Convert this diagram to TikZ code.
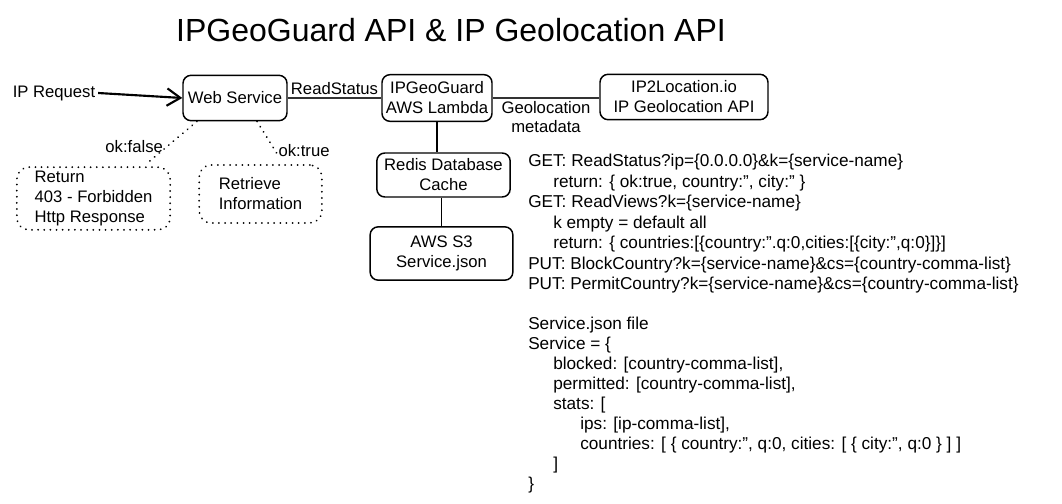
\documentclass[tikz,border=0pt]{standalone}
\usepackage{fontspec}
\setmainfont{Liberation Sans}
\usetikzlibrary{arrows.meta,calc}

\tikzset{
  box/.style={draw, line width=1.1pt, rounded corners=6pt, align=center, inner sep=1pt, font=\fontsize{12.5}{15}\selectfont},
  notebox/.style={draw, line width=1.4pt, dash pattern=on 0.1pt off 4.5pt, line cap=round, rounded corners=9pt, align=left, inner sep=1pt, font=\fontsize{12.5}{15}\selectfont},
  link/.style={line width=1.1pt, draw=black!80},
  okline/.style={line width=1.4pt, dash pattern=on 0.1pt off 4.5pt, line cap=round},
  label/.style={font=\fontsize{12.5}{15}\selectfont, inner sep=2pt},
  code/.style={anchor=north west, align=left, inner sep=0pt, font=\fontsize{12.9}{15.4}\selectfont},
}

\begin{document}
\begin{tikzpicture}[x=0.75pt, y=-0.75pt]
    \useasboundingbox (0,0) rectangle (1062,503);

    % Titolo
    \node[font=\fontsize{24}{28}\selectfont] (titolo) at (451,30) {IPGeoGuard API \& IP Geolocation API};

    % Nodi principali
    \node[label] (req) at (54,93) {IP Request};
    \node[box, minimum width=78pt, minimum height=34pt] (web) at (235,98) {Web Service};
    \node[box, minimum width=82.5pt, minimum height=35pt] (geo) at (437,98) {IPGeoGuard\\AWS Lambda};
    \node[box, minimum width=126pt, minimum height=34pt] (ip2) at (684,97) {IP2Location.io\\IP Geolocation API};
    \node[box, minimum width=100pt, minimum height=33pt] (redis) at (443.5,175) {Redis Database\\Cache};
    \node[box, minimum width=107pt, minimum height=40pt] (s3) at (441.5,253.5) {AWS S3\\Service.json};

    % Risposte
    \node[notebox, minimum width=115pt, minimum height=47pt] (deny) at (93.5,198.5) {Return\\403 - Forbidden\\Http Response};
    \node[notebox, minimum width=92pt, minimum height=43.5pt] (info) at (260.5,194) {Retrieve\\Information};

    % Collegamenti
    \draw[line width=1.6pt, -{Straight Barb[length=10pt, width=13pt, line width=1.6pt]}] (req.east) -- (web.west);
    \draw[link] (web.east) -- node[label, above] {ReadStatus} (geo.west);
    \draw[link] (geo.east) -- node[label, below, align=center, font=\fontsize{12.5}{14.5}\selectfont] {Geolocation\\metadata} (ip2.west |- geo.east);
    \draw[line width=0.9pt] (geo.south) -- (geo.south |- redis.north);
    \draw[line width=0.9pt] (s3.north |- redis.south) -- (s3.north);
    \draw[okline, shorten >=4pt] ($(web.south)+(-38,0)$) -- node[label, left, pos=0.57] {ok:false} ($(deny.north)+(50,0)$);
    \draw[okline, shorten >=6pt] ($(web.south)+(22,0)$) -- node[label, right, pos=0.68] {ok:true} ($(info.north)+(23,0)$);

    % API
    \node[code] (api) at (528,154) {GET: ReadStatus?ip=\{0.0.0.0\}\&k=\{service-name\}\\
        \hspace*{18.75pt}return: \{ ok:true, country:", city:" \}\\
        GET: ReadViews?k=\{service-name\}\\
        \hspace*{18.75pt}k empty = default all\\
        \hspace*{18.75pt}return: \{ countries:[\{country:".q:0,cities:[\{city:",q:0\}]\}]\\
        PUT: BlockCountry?k=\{service-name\}\&cs=\{country-comma-list\}\\
        PUT: PermitCountry?k=\{service-name\}\&cs=\{country-comma-list\}};

    % Service.json
    \node[code, font=\fontsize{12.9}{15}\selectfont] (json) at (528,317) {Service.json file\\
        Service = \{\\
        \hspace*{18.75pt}blocked: [country-comma-list],\\
        \hspace*{18.75pt}permitted: [country-comma-list],\\
        \hspace*{18.75pt}stats: [\\
        \hspace*{39pt}ips: [ip-comma-list],\\
        \hspace*{39pt}countries: [ \{ country:", q:0, cities: [ \{ city:", q:0 \} ] ]\\
        \hspace*{18.75pt}]\\
        \}};
\end{tikzpicture}
\end{document}
